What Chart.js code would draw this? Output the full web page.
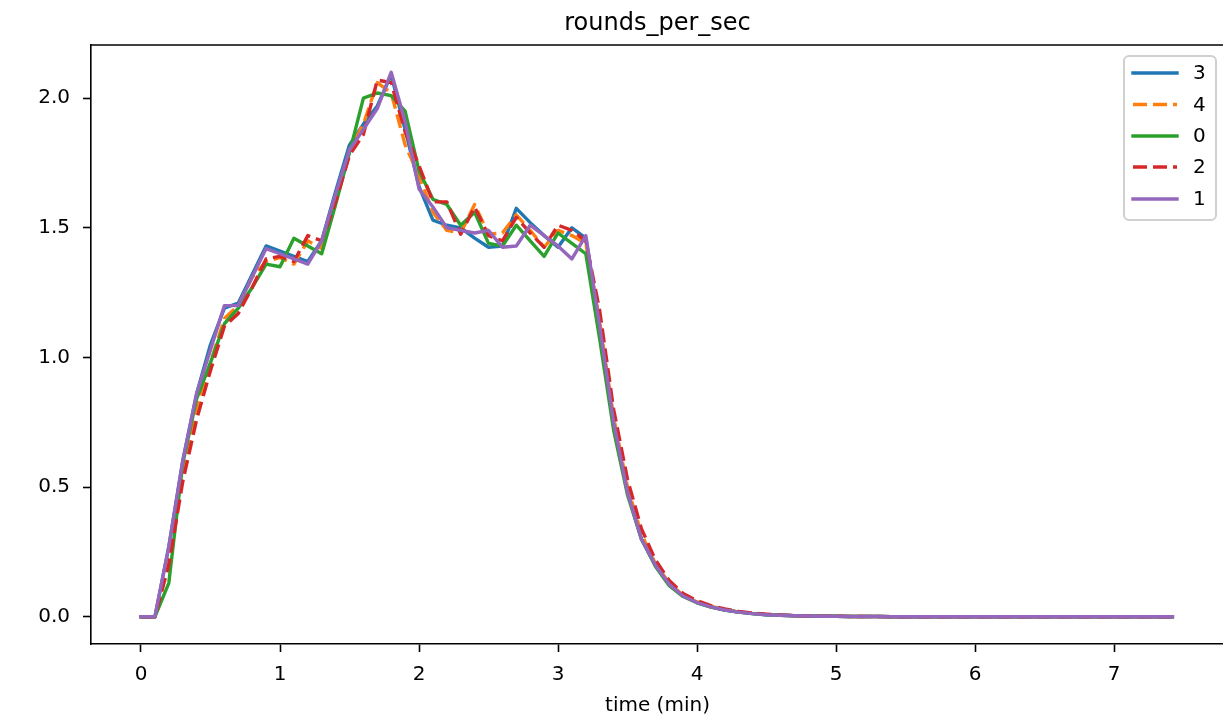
<!DOCTYPE html>
<html>
<head>
<meta charset="utf-8">
<script src="https://cdn.jsdelivr.net/npm/chart.js@4/dist/chart.umd.min.js"></script>
<style>
  html, body { margin: 0; padding: 0; background: #fff; overflow: hidden; }
  #grafica { display: block; }
</style>
</head>
<body>
<canvas id="grafica" width="1223" height="719"></canvas>
<script>
// tiempos en minutos
const tiempos = [
  0.0, 0.1, 0.2, 0.3, 0.4, 0.5, 0.6, 0.7, 0.8, 0.9,
  1.0, 1.1, 1.2, 1.3, 1.4, 1.5, 1.6, 1.7, 1.8, 1.9,
  2.0, 2.1, 2.2, 2.3, 2.4, 2.5, 2.6, 2.7, 2.8, 2.9,
  3.0, 3.1, 3.2, 3.3, 3.4, 3.5, 3.6, 3.7, 3.8, 3.9,
  4.0, 4.1, 4.2, 4.3, 4.4, 4.5, 4.6, 4.7, 4.8, 4.9,
  5.0, 5.1, 5.2, 5.3, 5.4, 5.5, 5.6, 5.7, 5.8, 5.9,
  6.0, 6.1, 6.2, 6.3, 6.4, 6.5, 6.6, 6.7, 6.8, 6.9,
  7.0, 7.1, 7.2, 7.3, 7.42
]

const serie3 = [
  0, 0, 0.27, 0.60, 0.86, 1.05, 1.19, 1.21, 1.32, 1.43,
  1.41, 1.39, 1.37, 1.45, 1.64, 1.82, 1.90, 1.97, 2.09, 1.88,
  1.66, 1.53, 1.51, 1.50, 1.46, 1.425, 1.43, 1.575, 1.52, 1.47,
  1.425, 1.50, 1.46, 1.12, 0.75, 0.48, 0.30, 0.20, 0.125, 0.08,
  0.055, 0.038, 0.026, 0.018, 0.012, 0.008, 0.006, 0.004, 0.003, 0.002,
  0.002, 0.001, 0.001, 0.001, 0, 0, 0, 0, 0, 0,
  0, 0, 0, 0, 0, 0, 0, 0, 0, 0,
  0, 0, 0, 0, 0
]
const serie4 = [
  0, 0, 0.25, 0.56, 0.80, 0.98, 1.15, 1.20, 1.31, 1.37,
  1.385, 1.36, 1.45, 1.42, 1.62, 1.80, 1.90, 2.06, 2.02, 1.82,
  1.70, 1.56, 1.49, 1.48, 1.59, 1.475, 1.48, 1.55, 1.49, 1.425,
  1.49, 1.47, 1.44, 1.14, 0.77, 0.50, 0.32, 0.205, 0.13, 0.083,
  0.057, 0.04, 0.027, 0.019, 0.013, 0.009, 0.006, 0.004, 0.003, 0.002,
  0.002, 0.001, 0.001, 0.001, 0, 0, 0, 0, 0, 0,
  0, 0, 0, 0, 0, 0, 0, 0, 0, 0,
  0, 0, 0, 0, 0
]
const serie0 = [
  0, 0, 0.13, 0.59, 0.84, 0.98, 1.13, 1.19, 1.27, 1.36,
  1.35, 1.46, 1.43, 1.40, 1.59, 1.79, 2.00, 2.02, 2.01, 1.95,
  1.72, 1.61, 1.59, 1.51, 1.56, 1.44, 1.43, 1.51, 1.45, 1.39,
  1.48, 1.44, 1.40, 1.07, 0.72, 0.47, 0.30, 0.195, 0.12, 0.078,
  0.054, 0.037, 0.026, 0.018, 0.012, 0.008, 0.006, 0.004, 0.003, 0.002,
  0.002, 0.001, 0.001, 0.001, 0, 0, 0, 0, 0, 0,
  0, 0, 0, 0, 0, 0, 0, 0, 0, 0,
  0, 0, 0, 0, 0
]
const serie2 = [
  0, 0, 0.20, 0.52, 0.76, 0.95, 1.12, 1.17, 1.27, 1.38,
  1.39, 1.37, 1.47, 1.45, 1.60, 1.78, 1.86, 2.07, 2.06, 1.87,
  1.74, 1.60, 1.60, 1.475, 1.58, 1.47, 1.45, 1.54, 1.48, 1.425,
  1.51, 1.49, 1.45, 1.18, 0.80, 0.53, 0.34, 0.22, 0.14, 0.09,
  0.062, 0.043, 0.03, 0.021, 0.014, 0.01, 0.007, 0.005, 0.003, 0.002,
  0.002, 0.001, 0.001, 0.001, 0, 0, 0, 0, 0, 0,
  0, 0, 0, 0, 0, 0, 0, 0, 0, 0,
  0, 0, 0, 0, 0
]
const serie1 = [
  0, 0, 0.27, 0.60, 0.86, 1.03, 1.20, 1.20, 1.31, 1.42,
  1.40, 1.38, 1.36, 1.45, 1.63, 1.80, 1.88, 1.96, 2.10, 1.91,
  1.65, 1.58, 1.50, 1.49, 1.48, 1.49, 1.425, 1.43, 1.51, 1.47,
  1.43, 1.38, 1.47, 1.12, 0.75, 0.48, 0.30, 0.20, 0.125, 0.08,
  0.055, 0.038, 0.026, 0.018, 0.012, 0.008, 0.006, 0.004, 0.003, 0.002,
  0.002, 0.001, 0.001, 0.001, 0, 0, 0, 0, 0, 0,
  0, 0, 0, 0, 0, 0, 0, 0, 0, 0,
  0, 0, 0, 0, 0
]

const etiquetas = ["3", "4", "0", "2", "1"]
const xTicks = [0, 1, 2, 3, 4, 5, 6, 7]
const yTicks = [0.0, 0.5, 1.0, 1.5, 2.0]

const colores = ["#1f77b4", "#ff7f0e", "#2ca02c", "#d62728", "#9467bd"]
const guiones = [[], [14, 6], [], [14, 6], []]
const series = [serie3, serie4, serie0, serie2, serie1]

const FUENTE = "'DejaVu Sans', sans-serif"

const puntos = vals => tiempos.map((t, i) => ({ x: t, y: vals[i] }))

const datasets = series.map((vals, i) => ({
  label: etiquetas[i],
  data: puntos(vals),
  borderColor: colores[i],
  backgroundColor: colores[i],
  borderWidth: 3.4,
  borderDash: guiones[i],
  borderJoinStyle: 'round',
  borderCapStyle: guiones[i].length ? 'butt' : 'square',
  pointRadius: 0,
  tension: 0,
  fill: false,
  order: series.length - i
}))

// titulo, etiqueta del eje, marco superior y leyenda
const extras = {
  id: 'extras',
  afterDraw(chart) {
    const c = chart.ctx, a = chart.chartArea
    c.save()
    c.strokeStyle = '#000'
    c.lineWidth = 1.6
    c.beginPath()
    c.moveTo(a.left - 0.8, a.top)
    c.lineTo(a.right + 2, a.top)
    c.stroke()

    c.fillStyle = '#000'
    c.textAlign = 'center'
    c.textBaseline = 'alphabetic'
    c.font = `24px ${FUENTE}`
    c.fillText('rounds_per_sec', 657.5, 30)
    c.font = `20px ${FUENTE}`
    c.fillText('time (min)', 657.5, 711)

    // leyenda
    const bx = 1124, by = 56, bw = 92, bh = 164
    c.beginPath()
    c.roundRect(bx, by, bw, bh, 5)
    c.fillStyle = 'rgba(255,255,255,0.8)'
    c.fill()
    c.strokeStyle = '#d0d0d0'
    c.lineWidth = 2
    c.stroke()

    const filas = [73, 104.5, 136, 167, 199]
    etiquetas.forEach((et, i) => {
      const y = filas[i]
      c.beginPath()
      c.setLineDash(guiones[i])
      c.lineCap = guiones[i].length ? 'butt' : 'square'
      c.strokeStyle = colores[i]
      c.lineWidth = 3.4
      c.moveTo(1133, y)
      c.lineTo(1177, y)
      c.stroke()
      c.setLineDash([])
      c.fillStyle = '#000'
      c.textAlign = 'left'
      c.textBaseline = 'middle'
      c.font = `20px ${FUENTE}`
      c.fillText(et, 1193, y + 1)
    })
    c.restore()
  }
}

const ctx = document.getElementById('grafica').getContext('2d')

new Chart(ctx, {
  type: 'line',
  data: { datasets },
  options: {
    responsive: false,
    animation: false,
    layout: { padding: { top: 45, right: 0, left: 0, bottom: 0 } },
    plugins: {
      legend: { display: false },
      title: { display: false },
      tooltip: { enabled: false }
    },
    scales: {
      x: {
        type: 'linear',
        min: -0.3597,
        max: 7.784,
        afterFit: s => { s.height = 75 },
        afterBuildTicks: s => { s.ticks = xTicks.map(v => ({ value: v })) },
        grid: { drawOnChartArea: false, drawTicks: true, tickLength: 8, tickWidth: 1.6, tickColor: '#000' },
        border: { display: true, color: '#000', width: 1.6 },
        ticks: {
          color: '#000',
          padding: 11,
          maxRotation: 0,
          font: { family: FUENTE, size: 20 },
          callback: v => String(v)
        }
      },
      y: {
        type: 'linear',
        min: -0.105,
        max: 2.205,
        afterFit: s => { s.width = 91 },
        afterBuildTicks: s => { s.ticks = yTicks.map(v => ({ value: v })) },
        grid: { drawOnChartArea: false, drawTicks: true, tickLength: 8, tickWidth: 1.6, tickColor: '#000' },
        border: { display: true, color: '#000', width: 1.6 },
        ticks: {
          color: '#000',
          padding: 13,
          font: { family: FUENTE, size: 20 },
          callback: v => Number(v).toFixed(1)
        }
      }
    }
  },
  plugins: [extras]
})
</script>
</body>
</html>
